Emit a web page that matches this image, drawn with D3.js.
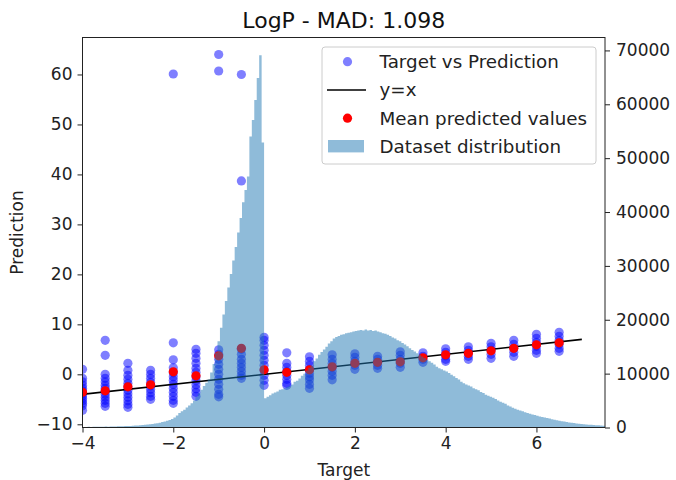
<!DOCTYPE html>
<html>
<head>
<meta charset="utf-8">
<script src="https://cdn.jsdelivr.net/npm/d3@7"></script>
<style>
  html, body { margin: 0; padding: 0; background: #fff; }
  svg { display: block; font-family: "DejaVu Sans", sans-serif; }
</style>
</head>
<body>
<svg id="chart" width="676" height="480"></svg>
<script>
// ---------------- DATA ----------------
const titleText = "LogP - MAD: 1.098";
const xLabel = "Target";
const yLabel = "Prediction";

const targets = [-4, -3.5, -3, -2.5, -2, -1.5, -1, -0.5, 0, 0.5, 1, 1.5, 2, 2.5, 3, 3.5, 4, 4.5, 5, 5.5, 6, 6.5];

const predictions = [
  [1.0, -0.8, -1.5, -2.2, -2.8, -3.3, -3.8, -4.3, -4.8, -5.3, -5.8, -6.3, -7.2],
  [6.8, 3.8, 0.0, -0.8, -1.5, -2.2, -2.8, -3.4, -4.0, -4.6, -5.2, -5.8, -6.4],
  [2.2, 0.8, -0.2, -1.0, -1.8, -2.5, -3.2, -3.9, -4.6, -5.3, -6.0, -6.6],
  [0.8, 0.0, -0.8, -1.6, -2.3, -3.0, -3.7, -4.4, -5.0],
  [60.1, 6.3, 2.9, 1.3, 0.3, -0.5, -1.2, -2.0, -2.8, -3.6, -4.4, -5.2, -5.8],
  [5.0, 4.2, 3.2, 2.2, 1.2, 0.4, -0.5, -1.3, -2.1, -2.9, -3.6, -4.4],
  [64.0, 60.7, 4.9, 4.0, 3.0, 2.0, 1.0, 0.0, -1.0, -2.0, -3.0, -4.0, -4.5],
  [60.0, 38.7, 5.0, 4.0, 3.0, 2.2, 1.4, 0.6, -0.2, -0.8],
  [7.4, 6.8, 5.8, 4.8, 3.8, 2.8, 1.8, 0.8, -0.2, -1.2, -2.2],
  [4.3, 2.2, 1.4, 0.6, -0.2, -1.0, -1.8, -2.2],
  [3.5, 2.6, 1.8, 1.0, 0.2, -0.5, -1.1, -2.0, -2.8],
  [3.9, 3.0, 2.2, 1.4, 0.6, -0.2, -1.1],
  [4.1, 3.4, 2.6, 1.8, 1.0],
  [3.6, 3.0, 2.4, 1.8, 1.2],
  [4.5, 3.8, 3.0, 2.2, 1.4],
  [4.3, 3.6, 3.0, 2.4],
  [5.1, 4.4, 3.7, 3.0, 2.6],
  [5.5, 4.8, 4.2, 3.6, 3.0],
  [6.2, 5.5, 4.8, 4.0, 3.2],
  [6.8, 6.0, 5.2, 4.4, 3.6],
  [8.0, 7.2, 6.4, 5.6, 4.8, 4.2],
  [8.4, 7.6, 6.8, 6.0, 5.2, 4.6]
];

const meanPredicted = [-3.6, -3.3, -2.5, -2.1, 0.5, -0.3, 3.7, 5.2, 0.9, 0.4, 0.9, 1.5, 2.2, 2.4, 2.5, 3.3, 3.9, 4.2, 4.7, 5.2, 5.9, 6.3];

const identityX = [-4.5, 7.0];

// histogram of the dataset: first bin edge, bin width, counts per bin
const histStart = -4.05;
const histBinWidth = 0.054;
const histCounts = [
  120, 90, 110, 130, 100, 140, 120, 150, 130, 160, 170, 150, 180, 200, 190, 220, 240, 230, 260, 280,
  300, 330, 360, 390, 430, 470, 520, 560, 610, 660,
  720, 800, 900, 1000, 1100, 1250, 1400, 1600, 1850, 2250,
  2700, 3000, 3300, 3700, 4100, 4500, 5000, 5700, 6300, 7000,
  7700, 8300, 8900, 10200, 11800,
  13900, 16000, 18500, 21000, 23500,
  26000, 28500, 31000, 33500, 36200,
  38900, 41800, 44100, 46600, 54000, 57100, 60800, 64900, 69100, 52900,
  5450, 5700, 6000, 6300, 6500, 6700, 7000, 7100, 7300, 7500,
  7700, 8000, 8500, 8700, 9100, 9600, 10000, 10600, 11100, 11500,
  12300, 12800, 13500, 14000, 14500, 15000, 15600, 16000, 16500, 16800,
  17000, 17200, 17300, 17500, 17600, 17700, 17800, 17900, 18000, 18100,
  18000, 18200, 18000, 18100, 17900, 18000, 17800, 17700, 17500, 17400,
  17200, 17000, 16700, 16500, 16200, 16000, 15700, 15400, 15100, 14700,
  14400, 14100, 13800, 13500, 13200, 12900, 12600, 12300, 12000, 11700,
  11300, 11000, 10800, 10600, 10400, 10100, 9800, 9500, 9200, 8900,
  8500, 8200, 8000, 7800, 7600, 7300, 7100, 6900, 6600, 6400,
  6100, 5900, 5700, 5500, 5300, 5000, 4800, 4600, 4400, 4100,
  3900, 3650, 3500, 3300, 3150, 3000, 2850, 2700, 2550, 2400,
  2300, 2200, 2050, 1950, 1850, 1750, 1650, 1550, 1450, 1350,
  1250, 1150, 1100, 1000, 950, 880, 820, 760, 700, 650,
  600, 560, 520, 490, 460, 430, 400, 370, 340, 310
];

const yTicks = [-10, 0, 10, 20, 30, 40, 50, 60];
const y2Ticks = [0, 10000, 20000, 30000, 40000, 50000, 60000, 70000];
const xTicks = [-4, -2, 0, 2, 4, 6];

const legendLabels = ["Target vs Prediction", "y=x", "Mean predicted values", "Dataset distribution"];

// ---------------- LAYOUT ----------------
const plot = { left: 82.5, right: 605, top: 37.5, bottom: 427.5 };
const FONT = 17;
const LEGEND_FONT = 18.3;
const svg = d3.select("#chart");

const x = d3.scaleLinear().domain([-4, 7.51]).range([plot.left, plot.right]);
const y = d3.scaleLinear().domain([-10.64, 67.4]).range([plot.bottom, plot.top]);
const y2 = d3.scaleLinear().domain([0, 72400]).range([plot.bottom, plot.top]);

svg.append("defs").append("clipPath").attr("id", "clip")
  .append("rect")
  .attr("x", plot.left).attr("y", plot.top)
  .attr("width", plot.right - plot.left).attr("height", plot.bottom - plot.top);

const g = svg.append("g").attr("clip-path", "url(#clip)");

// scatter points
const pts = [];
targets.forEach((t, i) => predictions[i].forEach(p => pts.push({ t, p })));
g.append("g").selectAll("circle").data(pts).join("circle")
  .attr("cx", d => x(d.t)).attr("cy", d => y(d.p)).attr("r", 4.6)
  .attr("fill", "blue").attr("fill-opacity", 0.5);

// y = x line
g.append("line")
  .attr("x1", x(identityX[0])).attr("y1", y(identityX[0]))
  .attr("x2", x(identityX[1])).attr("y2", y(identityX[1]))
  .attr("stroke", "black").attr("stroke-width", 1.6);

// means
g.append("g").selectAll("circle").data(targets.map((t, i) => ({ t, m: meanPredicted[i] }))).join("circle")
  .attr("cx", d => x(d.t)).attr("cy", d => y(d.m)).attr("r", 4.6)
  .attr("fill", "red");

// histogram (twin axis, drawn on top)
const histPts = histCounts.map((c, i) => ({ e: histStart + i * histBinWidth, c }));
histPts.push({ e: histStart + histCounts.length * histBinWidth, c: histCounts[histCounts.length - 1] });
const area = d3.area().curve(d3.curveStepAfter)
  .x(d => x(d.e)).y0(y2(0)).y1(d => y2(d.c));
g.append("path").attr("d", area(histPts))
  .attr("fill", "#1f77b4").attr("fill-opacity", 0.5);

// ---------------- AXES ----------------
function styleAxis(sel) {
  sel.selectAll("text").attr("font-size", FONT).attr("fill", "#222").attr("font-family", "DejaVu Sans");
  sel.selectAll(".tick line").attr("stroke", "#222").attr("stroke-width", 1);
  sel.select(".domain").remove();
}
svg.append("g").attr("transform", `translate(${plot.left},0)`)
  .call(d3.axisLeft(y).tickValues(yTicks).tickSize(5).tickPadding(5).tickFormat(d3.format("d")))
  .call(styleAxis);
svg.append("g").attr("transform", `translate(${plot.right},0)`)
  .call(d3.axisRight(y2).tickValues(y2Ticks).tickSize(5).tickPadding(6).tickFormat(d3.format("d")))
  .call(styleAxis);
svg.append("g").attr("transform", `translate(0,${plot.bottom})`)
  .call(d3.axisBottom(x).tickValues(xTicks).tickSize(5).tickPadding(4).tickFormat(d3.format("d")))
  .call(styleAxis);

// minus sign as in matplotlib
svg.selectAll(".tick text").text(function () { return d3.select(this).text().replace("-", "\u2212"); });

// frame
svg.append("rect")
  .attr("x", plot.left).attr("y", plot.top)
  .attr("width", plot.right - plot.left).attr("height", plot.bottom - plot.top)
  .attr("fill", "none").attr("stroke", "#222").attr("stroke-width", 1);

// labels
svg.append("text").attr("x", (plot.left + plot.right) / 2).attr("y", 28)
  .attr("text-anchor", "middle").attr("font-size", 22).attr("fill", "#111").text(titleText);
svg.append("text").attr("x", (plot.left + plot.right) / 2).attr("y", 476)
  .attr("text-anchor", "middle").attr("font-size", FONT).attr("fill", "#222").text(xLabel);
svg.append("text").attr("transform", `translate(23,${(plot.top + plot.bottom) / 2}) rotate(-90)`)
  .attr("text-anchor", "middle").attr("font-size", FONT).attr("fill", "#222").text(yLabel);

// ---------------- LEGEND ----------------
const lg = svg.append("g");
lg.append("rect").attr("x", 322).attr("y", 47).attr("width", 274).attr("height", 117)
  .attr("rx", 3).attr("fill", "white").attr("fill-opacity", 0.8).attr("stroke", "#ccc");
const rowY = [61.7, 90, 118.2, 146.2];
lg.append("circle").attr("cx", 347.5).attr("cy", rowY[0]).attr("r", 4.6).attr("fill", "blue").attr("fill-opacity", 0.5);
lg.append("line").attr("x1", 327).attr("x2", 366).attr("y1", rowY[1]).attr("y2", rowY[1]).attr("stroke", "black").attr("stroke-width", 1.6);
lg.append("circle").attr("cx", 347.5).attr("cy", rowY[2]).attr("r", 4.6).attr("fill", "red");
lg.append("rect").attr("x", 328).attr("y", rowY[3] - 6.2).attr("width", 36).attr("height", 12.4)
  .attr("fill", "#1f77b4").attr("fill-opacity", 0.5);
legendLabels.forEach((t, i) => {
  lg.append("text").attr("x", 379.5).attr("y", rowY[i]).attr("dy", "0.35em")
    .attr("font-size", LEGEND_FONT).attr("fill", "#222").text(t);
});
</script>
</body>
</html>
